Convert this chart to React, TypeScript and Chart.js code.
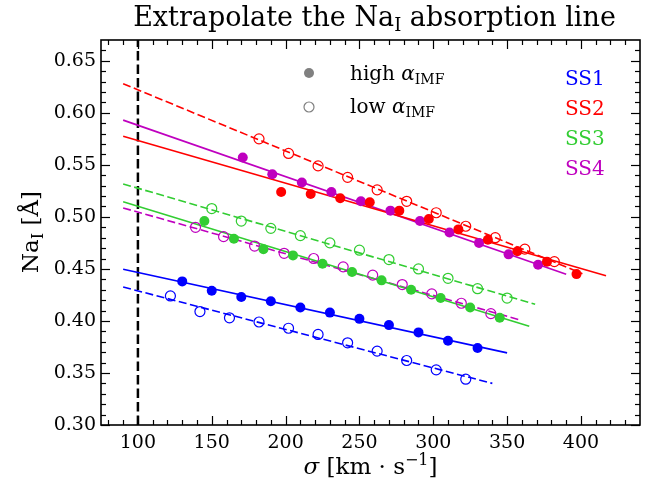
import React, { useEffect, useRef } from "react";
import { Chart, registerables } from "chart.js";
Chart.register(...registerables);

const X_MIN = 75;
const X_MAX = 440;
const Y_MIN = 0.3;
const Y_MAX = 0.67;
const xTicks = [100, 150, 200, 250, 300, 350, 400];
const yTicks = [0.3, 0.35, 0.4, 0.45, 0.5, 0.55, 0.6, 0.65];
const xMinor = [80, 90, 110, 120, 130, 140, 160, 170, 180, 190, 210, 220, 230, 240, 260, 270, 280, 290, 310, 320, 330, 340, 360, 370, 380, 390, 410, 420, 430];
const yMinor = [0.31, 0.32, 0.33, 0.34, 0.36, 0.37, 0.38, 0.39, 0.41, 0.42, 0.43, 0.44, 0.46, 0.47, 0.48, 0.49, 0.51, 0.52, 0.53, 0.54, 0.56, 0.57, 0.58, 0.59, 0.61, 0.62, 0.63, 0.64, 0.66];

const ss1HighX = [130, 150, 170, 190, 210, 230, 250, 270, 290, 310, 330];
const ss1HighY = [0.438, 0.429, 0.423, 0.419, 0.413, 0.408, 0.402, 0.396, 0.389, 0.381, 0.374];
const ss1LowX = [122, 142, 162, 182, 202, 222, 242, 262, 282, 302, 322];
const ss1LowY = [0.424, 0.409, 0.403, 0.399, 0.393, 0.387, 0.379, 0.371, 0.362, 0.353, 0.344];
const ss2HighX = [197, 217, 237, 257, 277, 297, 317, 337, 357, 377, 397];
const ss2HighY = [0.524, 0.522, 0.518, 0.514, 0.506, 0.498, 0.488, 0.478, 0.467, 0.457, 0.445];
const ss2LowX = [182, 202, 222, 242, 262, 282, 302, 322, 342, 362, 382];
const ss2LowY = [0.575, 0.561, 0.549, 0.538, 0.526, 0.515, 0.504, 0.491, 0.48, 0.469, 0.457];
const ss3HighX = [145, 165, 185, 205, 225, 245, 265, 285, 305, 325, 345];
const ss3HighY = [0.496, 0.479, 0.469, 0.463, 0.455, 0.447, 0.439, 0.43, 0.422, 0.413, 0.403];
const ss3LowX = [150, 170, 190, 210, 230, 250, 270, 290, 310, 330, 350];
const ss3LowY = [0.508, 0.496, 0.489, 0.482, 0.475, 0.468, 0.459, 0.45, 0.441, 0.431, 0.422];
const ss4HighX = [171, 191, 211, 231, 251, 271, 291, 311, 331, 351, 371];
const ss4HighY = [0.557, 0.541, 0.533, 0.524, 0.515, 0.506, 0.496, 0.485, 0.475, 0.464, 0.454];
const ss4LowX = [139, 158, 179, 199, 219, 239, 259, 279, 299, 319, 339];
const ss4LowY = [0.49, 0.481, 0.472, 0.465, 0.46, 0.452, 0.444, 0.435, 0.426, 0.417, 0.407];

// fitted line end points [x, y]
const ss1FitHigh = [[90, 0.4496], [350, 0.3693]];
const ss1FitLow = [[90, 0.4326], [340, 0.34]];
const ss2FitHigh = [[90, 0.5775], [417, 0.4435]];
const ss2FitLow = [[90, 0.628], [401, 0.4454]];
const ss3FitHigh = [[90, 0.5145], [365, 0.3949]];
const ss3FitLow = [[90, 0.5317], [369, 0.416]];
const ss4FitHigh = [[90, 0.593], [390, 0.4448]];
const ss4FitLow = [[90, 0.5086], [358, 0.4013]];
const vLine = [[100, 0.3], [100, 0.67]];

const seriesNames = ["SS1", "SS2", "SS3", "SS4"];
const COLORS = ["#0000ff", "#ff0000", "#32cd32", "#bf00bf"];
const FONT = "'DejaVu Serif'";

type Part = { t: string; size: number; italic?: boolean; dy?: number };

function drawRich(ctx: CanvasRenderingContext2D, parts: Part[], x: number, y: number, align: "left" | "center") {
  const widths = parts.map((p) => {
    ctx.font = `${p.italic ? "italic " : ""}${p.size}px ${FONT}`;
    return ctx.measureText(p.t).width;
  });
  const total = widths.reduce((a, b) => a + b, 0);
  let cx = align === "center" ? x - total / 2 : x;
  ctx.textAlign = "left";
  ctx.textBaseline = "alphabetic";
  parts.forEach((p, i) => {
    ctx.font = `${p.italic ? "italic " : ""}${p.size}px ${FONT}`;
    ctx.fillText(p.t, cx, y + (p.dy || 0));
    cx += widths[i];
  });
}

export default function App() {
  const ref = useRef<HTMLCanvasElement>(null);
  useEffect(() => {
    const canvas = ref.current!;
    const pts = (xs: number[], ys: number[]) => xs.map((x, i) => ({ x, y: ys[i] }));
    const scatter = (label: string, xs: number[], ys: number[], color: string, filled: boolean) => ({
      type: "scatter" as const,
      label,
      data: pts(xs, ys),
      pointRadius: 5,
      pointHoverRadius: 5,
      pointBackgroundColor: filled ? color : "rgba(0,0,0,0)",
      pointBorderColor: color,
      pointBorderWidth: filled ? 0 : 1.2,
      showLine: false,
      order: 1,
    });
    const line = (label: string, seg: number[][], color: string, dashed: boolean, width = 1.6, dash = [8, 3.5]) => ({
      type: "line" as const,
      label,
      data: seg.map(([x, y]) => ({ x, y })),
      borderColor: color,
      borderWidth: width,
      borderDash: dashed ? dash : [],
      pointRadius: 0,
      fill: false,
      tension: 0,
      order: 2,
    });

    const datasets: any[] = [
      scatter("SS1 high", ss1HighX, ss1HighY, COLORS[0], true),
      scatter("SS1 low", ss1LowX, ss1LowY, COLORS[0], false),
      scatter("SS2 high", ss2HighX, ss2HighY, COLORS[1], true),
      scatter("SS2 low", ss2LowX, ss2LowY, COLORS[1], false),
      scatter("SS3 high", ss3HighX, ss3HighY, COLORS[2], true),
      scatter("SS3 low", ss3LowX, ss3LowY, COLORS[2], false),
      scatter("SS4 high", ss4HighX, ss4HighY, COLORS[3], true),
      scatter("SS4 low", ss4LowX, ss4LowY, COLORS[3], false),
      line("SS1 fit high", ss1FitHigh, COLORS[0], false),
      line("SS1 fit low", ss1FitLow, COLORS[0], true),
      line("SS2 fit high", ss2FitHigh, COLORS[1], false),
      line("SS2 fit low", ss2FitLow, COLORS[1], true),
      line("SS3 fit high", ss3FitHigh, COLORS[2], false),
      line("SS3 fit low", ss3FitLow, COLORS[2], true),
      line("SS4 fit high", ss4FitHigh, COLORS[3], false),
      line("SS4 fit low", ss4FitLow, COLORS[3], true),
      line("sigma = 100", vLine, "#000000", true, 2.5, [9.5, 4]),
    ];

    const decor = {
      id: "decor",
      afterDraw(chart: any) {
        const ctx: CanvasRenderingContext2D = chart.ctx;
        const { left, right, top, bottom } = chart.chartArea;
        const xs = chart.scales.x;
        const ys = chart.scales.y;
        ctx.save();
        ctx.strokeStyle = "#000";
        ctx.lineWidth = 1.2;
        const tick = (x1: number, y1: number, x2: number, y2: number) => {
          ctx.beginPath();
          ctx.moveTo(x1, y1);
          ctx.lineTo(x2, y2);
          ctx.stroke();
        };
        const MAJ = 9, MIN = 5;
        xTicks.forEach((v) => {
          const p = Math.round(xs.getPixelForValue(v)) + 0.5;
          tick(p, bottom, p, bottom - MAJ);
          tick(p, top, p, top + MAJ);
        });
        xMinor.forEach((v) => {
          const p = Math.round(xs.getPixelForValue(v)) + 0.5;
          tick(p, bottom, p, bottom - MIN);
          tick(p, top, p, top + MIN);
        });
        yTicks.forEach((v) => {
          const p = Math.round(ys.getPixelForValue(v)) + 0.5;
          tick(left, p, left + MAJ, p);
          tick(right, p, right - MAJ, p);
        });
        yMinor.forEach((v) => {
          const p = Math.round(ys.getPixelForValue(v)) + 0.5;
          tick(left, p, left + MIN, p);
          tick(right, p, right - MIN, p);
        });
        ctx.lineWidth = 1.6;
        ctx.strokeRect(left, top, right - left, bottom - top);

        ctx.fillStyle = "#000";
        drawRich(ctx, [
          { t: "Extrapolate the ", size: 27 },
          { t: "Na", size: 27 },
          { t: "I", size: 18, dy: 5 },
          { t: " absorption line", size: 27 },
        ], (left + right) / 2 + 4, 26, "center");
        drawRich(ctx, [
          { t: "σ", size: 23, italic: true },
          { t: " [km · s", size: 23 },
          { t: "−1", size: 16, dy: -9 },
          { t: "]", size: 23 },
        ], (left + right) / 2, 474, "center");
        ctx.save();
        ctx.translate(38, 232);
        ctx.rotate(-Math.PI / 2);
        drawRich(ctx, [
          { t: "Na", size: 23 },
          { t: "I", size: 16, dy: 5 },
          { t: " [Å]", size: 23 },
        ], 0, 0, "center");
        ctx.restore();

        ctx.fillStyle = "#808080";
        ctx.beginPath();
        ctx.arc(309, 73, 5, 0, Math.PI * 2);
        ctx.fill();
        ctx.strokeStyle = "#808080";
        ctx.lineWidth = 1.2;
        ctx.beginPath();
        ctx.arc(309, 107, 5, 0, Math.PI * 2);
        ctx.stroke();
        ctx.fillStyle = "#000";
        drawRich(ctx, [
          { t: "high ", size: 20 },
          { t: "α", size: 20, italic: true },
          { t: "IMF", size: 14, dy: 4 },
        ], 350, 80, "left");
        drawRich(ctx, [
          { t: "low ", size: 20 },
          { t: "α", size: 20, italic: true },
          { t: "IMF", size: 14, dy: 4 },
        ], 350, 113, "left");

        seriesNames.forEach((n, i) => {
          ctx.fillStyle = COLORS[i];
          drawRich(ctx, [{ t: n, size: 20 }], 565, 85 + i * 30, "left");
        });
        ctx.restore();
      },
    };

    const chart = new Chart(canvas, {
      type: "scatter",
      data: { datasets },
      options: {
        responsive: false,
        animation: false,
        events: [],
        layout: { padding: { left: 0, right: 9, top: 40, bottom: 0 } },
        plugins: { legend: { display: false }, title: { display: false }, tooltip: { enabled: false } },
        scales: {
          x: {
            type: "linear",
            min: X_MIN,
            max: X_MAX,
            grid: { display: false, drawTicks: false },
            border: { display: false },
            afterBuildTicks: (s: any) => {
              s.ticks = xTicks.map((v) => ({ value: v }));
            },
            afterFit: (s: any) => {
              s.height = 58;
            },
            ticks: {
              padding: 7,
              color: "#000",
              font: { family: FONT, size: 19 },
              maxRotation: 0,
              callback: (v: any) => String(v),
            },
          },
          y: {
            type: "linear",
            min: Y_MIN,
            max: Y_MAX,
            grid: { display: false, drawTicks: false },
            border: { display: false },
            afterBuildTicks: (s: any) => {
              s.ticks = yTicks.map((v) => ({ value: v }));
            },
            afterFit: (s: any) => {
              s.width = 101;
            },
            ticks: {
              padding: 5,
              color: "#000",
              font: { family: FONT, size: 19 },
              callback: (v: any) => Number(v).toFixed(2),
            },
          },
        },
      },
      plugins: [decor],
    } as any);
    return () => chart.destroy();
  }, []);

  return (
    <div style={{ position: "absolute", left: 0, top: 0, width: 649, height: 483, background: "#fff" }}>
      <canvas ref={ref} width={649} height={483} style={{ width: 649, height: 483, display: "block" }} />
    </div>
  );
}
